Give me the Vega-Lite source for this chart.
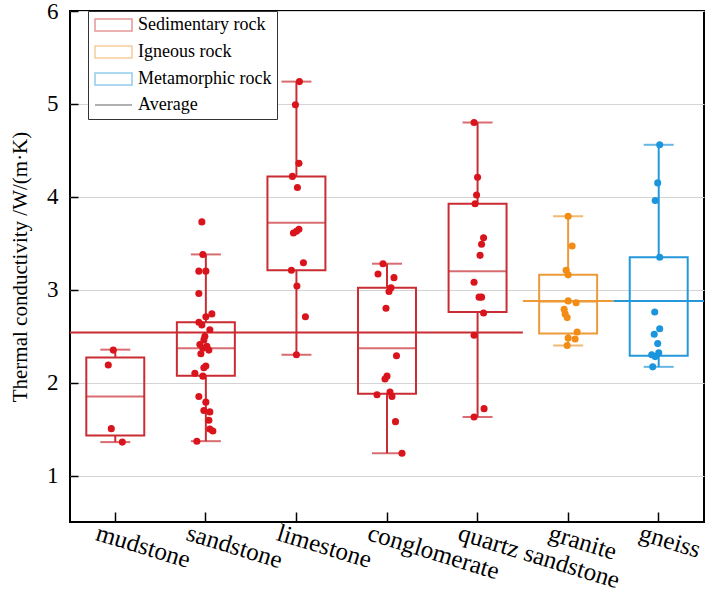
{
  "$schema": "https://vega.github.io/schema/vega-lite/v6.json",
  "width": 634,
  "height": 511,
  "autosize": "none",
  "padding": {"left": 70, "top": 11, "right": 6, "bottom": 78},
  "background": "white",
  "config": {
    "view": {"stroke": "black", "strokeWidth": 2},
    "font": "Liberation Serif"
  },
  "datasets": {
    "boxes": [
      {"rock": "mudstone", "type": "Sedimentary rock", "low": 1.36, "q1": 1.43, "med": 1.85, "q3": 2.27, "high": 2.355},
      {"rock": "sandstone", "type": "Sedimentary rock", "low": 1.37, "q1": 2.075, "med": 2.37, "q3": 2.65, "high": 3.38},
      {"rock": "limestone", "type": "Sedimentary rock", "low": 2.30, "q1": 3.21, "med": 3.72, "q3": 4.22, "high": 5.24},
      {"rock": "conglomerate", "type": "Sedimentary rock", "low": 1.24, "q1": 1.88, "med": 2.37, "q3": 3.02, "high": 3.28},
      {"rock": "quartz sandstone", "type": "Sedimentary rock", "low": 1.63, "q1": 2.76, "med": 3.20, "q3": 3.925, "high": 4.80},
      {"rock": "granite", "type": "Igneous rock", "low": 2.40, "q1": 2.53, "med": 2.87, "q3": 3.16, "high": 3.79},
      {"rock": "gneiss", "type": "Metamorphic rock", "low": 2.17, "q1": 2.29, "med": 2.88, "q3": 3.35, "high": 4.56}
    ],
    "avgs": [
      {"type": "Sedimentary rock", "start": "mudstone", "end": "quartz sandstone", "avg": 2.54},
      {"type": "Igneous rock", "start": "granite", "end": "granite", "avg": 2.88},
      {"type": "Metamorphic rock", "start": "gneiss", "end": "gneiss", "avg": 2.88}
    ],
    "points": [
      {"rock": "mudstone", "type": "Sedimentary rock", "v": 2.35, "j": -2},
      {"rock": "mudstone", "type": "Sedimentary rock", "v": 2.19, "j": -7},
      {"rock": "mudstone", "type": "Sedimentary rock", "v": 1.505, "j": -4},
      {"rock": "mudstone", "type": "Sedimentary rock", "v": 1.36, "j": 7},
      {"rock": "sandstone", "type": "Sedimentary rock", "v": 3.73, "j": -4},
      {"rock": "sandstone", "type": "Sedimentary rock", "v": 3.38, "j": -3},
      {"rock": "sandstone", "type": "Sedimentary rock", "v": 3.20, "j": -7},
      {"rock": "sandstone", "type": "Sedimentary rock", "v": 3.20, "j": 0},
      {"rock": "sandstone", "type": "Sedimentary rock", "v": 2.96, "j": -7},
      {"rock": "sandstone", "type": "Sedimentary rock", "v": 2.74, "j": 6},
      {"rock": "sandstone", "type": "Sedimentary rock", "v": 2.71, "j": 0},
      {"rock": "sandstone", "type": "Sedimentary rock", "v": 2.65, "j": -7},
      {"rock": "sandstone", "type": "Sedimentary rock", "v": 2.62, "j": -4},
      {"rock": "sandstone", "type": "Sedimentary rock", "v": 2.57, "j": 4},
      {"rock": "sandstone", "type": "Sedimentary rock", "v": 2.50, "j": -1},
      {"rock": "sandstone", "type": "Sedimentary rock", "v": 2.46, "j": -2},
      {"rock": "sandstone", "type": "Sedimentary rock", "v": 2.41, "j": -6},
      {"rock": "sandstone", "type": "Sedimentary rock", "v": 2.39, "j": 1},
      {"rock": "sandstone", "type": "Sedimentary rock", "v": 2.37, "j": -3},
      {"rock": "sandstone", "type": "Sedimentary rock", "v": 2.35, "j": 3},
      {"rock": "sandstone", "type": "Sedimentary rock", "v": 2.31, "j": -5},
      {"rock": "sandstone", "type": "Sedimentary rock", "v": 2.18, "j": 0},
      {"rock": "sandstone", "type": "Sedimentary rock", "v": 2.16, "j": -2},
      {"rock": "sandstone", "type": "Sedimentary rock", "v": 2.10, "j": -11},
      {"rock": "sandstone", "type": "Sedimentary rock", "v": 2.07, "j": -3},
      {"rock": "sandstone", "type": "Sedimentary rock", "v": 1.85, "j": -7},
      {"rock": "sandstone", "type": "Sedimentary rock", "v": 1.79, "j": 0},
      {"rock": "sandstone", "type": "Sedimentary rock", "v": 1.70, "j": -2},
      {"rock": "sandstone", "type": "Sedimentary rock", "v": 1.685, "j": 4},
      {"rock": "sandstone", "type": "Sedimentary rock", "v": 1.595, "j": 3},
      {"rock": "sandstone", "type": "Sedimentary rock", "v": 1.50, "j": 4},
      {"rock": "sandstone", "type": "Sedimentary rock", "v": 1.48, "j": 7},
      {"rock": "sandstone", "type": "Sedimentary rock", "v": 1.37, "j": -9},
      {"rock": "limestone", "type": "Sedimentary rock", "v": 5.24, "j": 3},
      {"rock": "limestone", "type": "Sedimentary rock", "v": 4.99, "j": -1},
      {"rock": "limestone", "type": "Sedimentary rock", "v": 4.36, "j": 2.5},
      {"rock": "limestone", "type": "Sedimentary rock", "v": 4.22, "j": -4},
      {"rock": "limestone", "type": "Sedimentary rock", "v": 4.10, "j": 1},
      {"rock": "limestone", "type": "Sedimentary rock", "v": 3.61, "j": -3},
      {"rock": "limestone", "type": "Sedimentary rock", "v": 3.63, "j": 0},
      {"rock": "limestone", "type": "Sedimentary rock", "v": 3.65, "j": 2.5},
      {"rock": "limestone", "type": "Sedimentary rock", "v": 3.29, "j": 7},
      {"rock": "limestone", "type": "Sedimentary rock", "v": 3.21, "j": -5},
      {"rock": "limestone", "type": "Sedimentary rock", "v": 3.04, "j": 0.5},
      {"rock": "limestone", "type": "Sedimentary rock", "v": 2.71, "j": 9},
      {"rock": "limestone", "type": "Sedimentary rock", "v": 2.30, "j": 0},
      {"rock": "conglomerate", "type": "Sedimentary rock", "v": 3.28, "j": -4},
      {"rock": "conglomerate", "type": "Sedimentary rock", "v": 3.17, "j": -9},
      {"rock": "conglomerate", "type": "Sedimentary rock", "v": 3.13, "j": 7},
      {"rock": "conglomerate", "type": "Sedimentary rock", "v": 3.02, "j": 4},
      {"rock": "conglomerate", "type": "Sedimentary rock", "v": 2.98, "j": 2},
      {"rock": "conglomerate", "type": "Sedimentary rock", "v": 2.80, "j": -1},
      {"rock": "conglomerate", "type": "Sedimentary rock", "v": 2.29, "j": 9.5},
      {"rock": "conglomerate", "type": "Sedimentary rock", "v": 2.07, "j": 0},
      {"rock": "conglomerate", "type": "Sedimentary rock", "v": 2.04, "j": -2},
      {"rock": "conglomerate", "type": "Sedimentary rock", "v": 1.87, "j": -10},
      {"rock": "conglomerate", "type": "Sedimentary rock", "v": 1.90, "j": 3},
      {"rock": "conglomerate", "type": "Sedimentary rock", "v": 1.85, "j": 5},
      {"rock": "conglomerate", "type": "Sedimentary rock", "v": 1.58, "j": 8.5},
      {"rock": "conglomerate", "type": "Sedimentary rock", "v": 1.24, "j": 15},
      {"rock": "quartz sandstone", "type": "Sedimentary rock", "v": 4.80, "j": -3.5},
      {"rock": "quartz sandstone", "type": "Sedimentary rock", "v": 4.21, "j": 0},
      {"rock": "quartz sandstone", "type": "Sedimentary rock", "v": 4.02, "j": -1},
      {"rock": "quartz sandstone", "type": "Sedimentary rock", "v": 3.925, "j": -2.5},
      {"rock": "quartz sandstone", "type": "Sedimentary rock", "v": 3.56, "j": 6},
      {"rock": "quartz sandstone", "type": "Sedimentary rock", "v": 3.49, "j": 4},
      {"rock": "quartz sandstone", "type": "Sedimentary rock", "v": 3.37, "j": 2.5},
      {"rock": "quartz sandstone", "type": "Sedimentary rock", "v": 3.08, "j": -3.5},
      {"rock": "quartz sandstone", "type": "Sedimentary rock", "v": 2.92, "j": 1.5},
      {"rock": "quartz sandstone", "type": "Sedimentary rock", "v": 2.92, "j": 4},
      {"rock": "quartz sandstone", "type": "Sedimentary rock", "v": 2.75, "j": 6},
      {"rock": "quartz sandstone", "type": "Sedimentary rock", "v": 2.51, "j": -3.5},
      {"rock": "quartz sandstone", "type": "Sedimentary rock", "v": 1.72, "j": 6.5},
      {"rock": "quartz sandstone", "type": "Sedimentary rock", "v": 1.63, "j": -3.5},
      {"rock": "granite", "type": "Igneous rock", "v": 3.79, "j": 0},
      {"rock": "granite", "type": "Igneous rock", "v": 3.47, "j": 4},
      {"rock": "granite", "type": "Igneous rock", "v": 3.21, "j": -2},
      {"rock": "granite", "type": "Igneous rock", "v": 3.16, "j": 0},
      {"rock": "granite", "type": "Igneous rock", "v": 2.88, "j": 0},
      {"rock": "granite", "type": "Igneous rock", "v": 2.86, "j": 8},
      {"rock": "granite", "type": "Igneous rock", "v": 2.79, "j": -4},
      {"rock": "granite", "type": "Igneous rock", "v": 2.74, "j": -3},
      {"rock": "granite", "type": "Igneous rock", "v": 2.70, "j": -1},
      {"rock": "granite", "type": "Igneous rock", "v": 2.545, "j": 9},
      {"rock": "granite", "type": "Igneous rock", "v": 2.48, "j": 0},
      {"rock": "granite", "type": "Igneous rock", "v": 2.47, "j": 7},
      {"rock": "granite", "type": "Igneous rock", "v": 2.40, "j": -1},
      {"rock": "gneiss", "type": "Metamorphic rock", "v": 4.56, "j": 1},
      {"rock": "gneiss", "type": "Metamorphic rock", "v": 4.15, "j": -1},
      {"rock": "gneiss", "type": "Metamorphic rock", "v": 3.96, "j": -3.5},
      {"rock": "gneiss", "type": "Metamorphic rock", "v": 3.35, "j": 1},
      {"rock": "gneiss", "type": "Metamorphic rock", "v": 2.76, "j": -4},
      {"rock": "gneiss", "type": "Metamorphic rock", "v": 2.58, "j": 1},
      {"rock": "gneiss", "type": "Metamorphic rock", "v": 2.52, "j": -4.5},
      {"rock": "gneiss", "type": "Metamorphic rock", "v": 2.42, "j": -1},
      {"rock": "gneiss", "type": "Metamorphic rock", "v": 2.32, "j": 0},
      {"rock": "gneiss", "type": "Metamorphic rock", "v": 2.30, "j": -7},
      {"rock": "gneiss", "type": "Metamorphic rock", "v": 2.28, "j": -3.5},
      {"rock": "gneiss", "type": "Metamorphic rock", "v": 2.17, "j": -6}
    ]
  },
  "resolve": {"scale": {"x": "independent"}, "axis": {"x": "independent"}},
  "encoding": {
    "x": {
      "field": "rock",
      "type": "nominal",
      "scale": {
        "domain": ["mudstone", "sandstone", "limestone", "conglomerate", "quartz sandstone", "granite", "gneiss"],
        "paddingInner": 0,
        "paddingOuter": 0
      },
      "axis": null
    },
    "color": {
      "field": "type",
      "type": "nominal",
      "scale": {
        "domain": ["Sedimentary rock", "Igneous rock", "Metamorphic rock", "Average"],
        "range": ["#c92d33", "#ee9a38", "#2598da", "#8a8a8a"]
      },
      "legend": {
        "title": null,
        "orient": "none",
        "legendX": 18,
        "legendY": 0,
        "direction": "vertical",
        "fillColor": "white",
        "strokeColor": "#333333",
        "padding": 5,
        "rowPadding": 7,
        "labelFont": "Liberation Serif",
        "labelFontSize": 18,
        "labelColor": "black",
        "labelOffset": 27,
        "symbolSize": 196,
        "symbolType": "M-1,-0.86H4.29V0.86H-1Z",
        "symbolStrokeWidth": 1.5,
        "encode": {
          "symbols": {
            "update": {
              "shape": {"signal": "datum.value === 'Average' ? 'M-1,0H4.29' : 'M-1,-0.86H4.29V0.86H-1Z'"},
              "fill": {"value": "transparent"},
              "fillOpacity": {"value": 0},
              "opacity": {"value": 1},
              "strokeWidth": {"value": 1.5},
              "strokeOpacity": {"signal": "datum.value === 'Average' ? 0.9 : 0.5"},
              "stroke": {"signal": "datum.value === 'Sedimentary rock' ? '#d98a8f' : datum.value === 'Igneous rock' ? '#ecc38d' : datum.value === 'Metamorphic rock' ? '#96cde4' : '#8e8e8e'"}
            }
          }
        }
      }
    }
  },
  "layer": [
    {
      "data": {"name": "boxes"},
      "mark": {"type": "rule", "strokeWidth": 2},
      "encoding": {
        "x": {
          "field": "rock",
          "type": "nominal",
          "scale": {
            "domain": ["mudstone", "sandstone", "limestone", "conglomerate", "quartz sandstone", "granite", "gneiss"],
            "paddingInner": 0,
            "paddingOuter": 0
          },
          "axis": {
            "title": null,
            "domain": false,
            "grid": false,
            "labelAngle": 17,
            "labelAlign": "left",
            "labelBaseline": "top",
            "labelFont": "Liberation Serif",
            "labelFontSize": 25,
            "labelColor": "black",
            "labelOffset": -15,
            "labelPadding": 8,
            "tickSize": -10,
            "tickColor": "black",
            "tickWidth": 1.5
          }
        },
        "y": {
          "field": "q3",
          "type": "quantitative",
          "scale": {"domain": [0.5, 6], "nice": false, "zero": false},
          "axis": {
            "title": "Thermal conductivity /W/(m·K)",
            "titleFont": "Liberation Serif",
            "titleFontSize": 21,
            "titleFontWeight": "normal",
            "titleColor": "black",
            "titlePadding": 16,
            "values": [1, 2, 3, 4, 5, 6],
            "format": "d",
            "domain": false,
            "grid": true,
            "gridColor": "#d4d4d4",
            "gridWidth": 1.2,
            "labelFont": "Liberation Serif",
            "labelFontSize": 23,
            "labelColor": "black",
            "labelPadding": 20,
            "tickSize": -8,
            "tickColor": "black",
            "tickWidth": 1.5
          }
        },
        "y2": {"field": "high"}
      }
    },
    {
      "data": {"name": "boxes"},
      "mark": {"type": "rule", "strokeWidth": 2},
      "encoding": {
        "y": {"field": "low", "type": "quantitative"},
        "y2": {"field": "q1"}
      }
    },
    {
      "data": {"name": "boxes"},
      "mark": {"type": "tick", "size": 30, "thickness": 2},
      "encoding": {"y": {"field": "high", "type": "quantitative"}}
    },
    {
      "data": {"name": "boxes"},
      "mark": {"type": "tick", "size": 30, "thickness": 2},
      "encoding": {"y": {"field": "low", "type": "quantitative"}}
    },
    {
      "data": {"name": "boxes"},
      "mark": {"type": "rect", "filled": false, "strokeWidth": 2},
      "encoding": {
        "x": {
          "field": "rock",
          "type": "nominal",
          "bandPosition": 0.18,
          "scale": {
            "domain": ["mudstone", "sandstone", "limestone", "conglomerate", "quartz sandstone", "granite", "gneiss"],
            "paddingInner": 0,
            "paddingOuter": 0
          },
          "axis": null
        },
        "x2": {"field": "rock", "bandPosition": 0.82},
        "y": {"field": "q1", "type": "quantitative"},
        "y2": {"field": "q3"}
      }
    },
    {
      "data": {"name": "boxes"},
      "mark": {"type": "tick", "size": 58, "thickness": 2},
      "encoding": {"y": {"field": "med", "type": "quantitative"}}
    },
    {
      "data": {"name": "avgs"},
      "mark": {"type": "rule", "strokeWidth": 2},
      "encoding": {
        "x": {
          "field": "start",
          "type": "nominal",
          "bandPosition": 0,
          "scale": {
            "domain": ["mudstone", "sandstone", "limestone", "conglomerate", "quartz sandstone", "granite", "gneiss"],
            "paddingInner": 0,
            "paddingOuter": 0
          },
          "axis": null
        },
        "x2": {"field": "end", "bandPosition": 1},
        "y": {"field": "avg", "type": "quantitative"}
      }
    },
    {
      "data": {"name": "points"},
      "mark": {"type": "circle", "size": 50, "opacity": 1},
      "encoding": {
        "y": {"field": "v", "type": "quantitative"},
        "xOffset": {"field": "j", "type": "quantitative", "scale": {"domain": [-45.3, 45.3]}},
        "fill": {
          "field": "type",
          "type": "nominal",
          "scale": {
            "domain": ["Sedimentary rock", "Igneous rock", "Metamorphic rock"],
            "range": ["#da141c", "#f28c14", "#1b95dd"]
          },
          "legend": null
        }
      }
    }
  ]
}
